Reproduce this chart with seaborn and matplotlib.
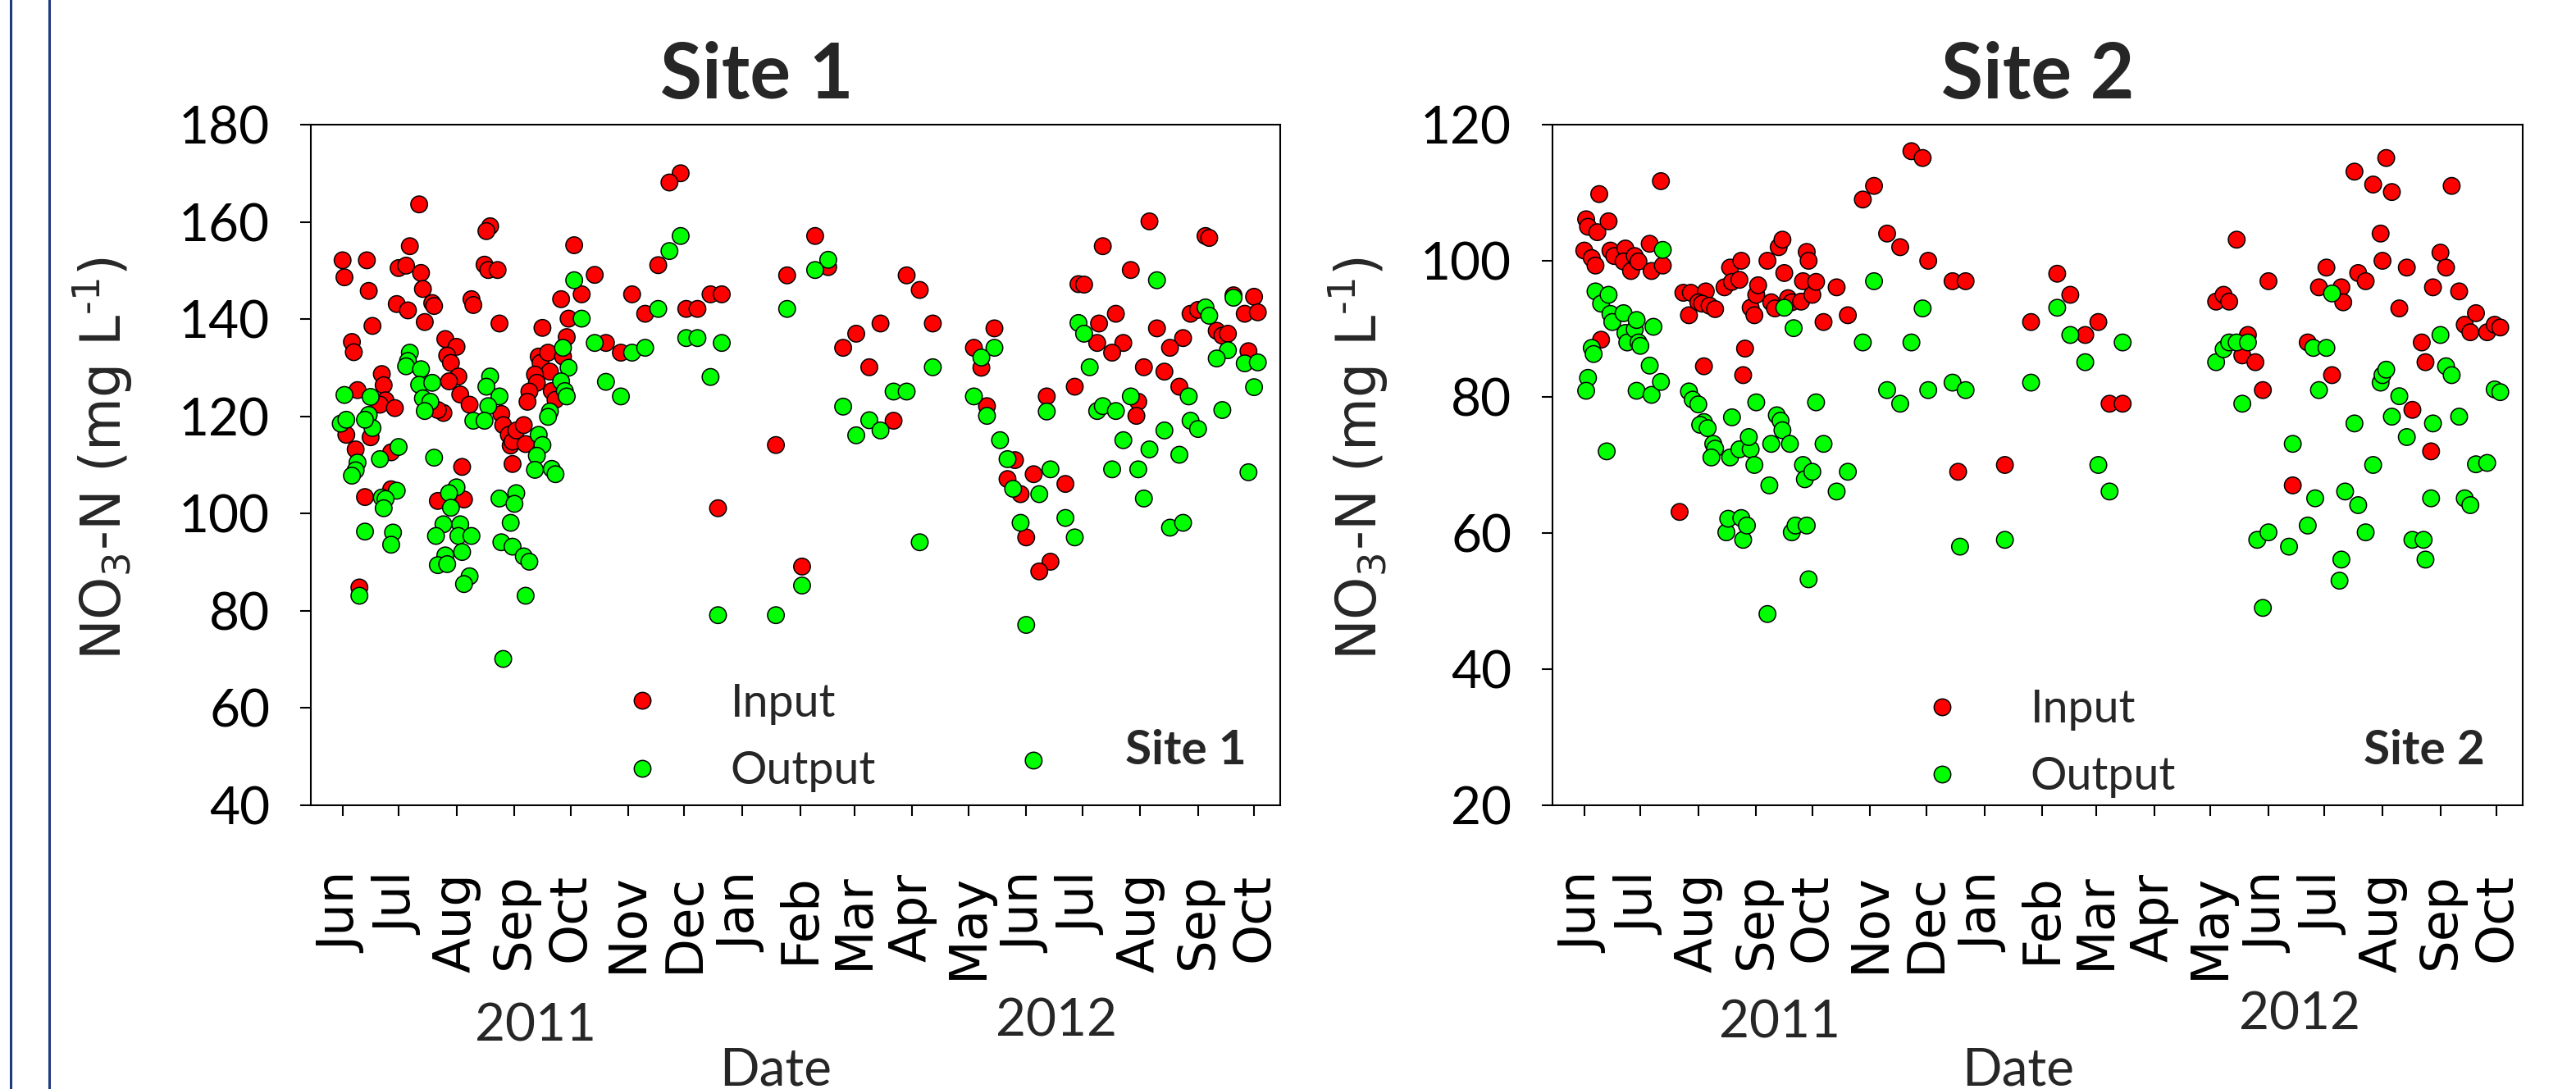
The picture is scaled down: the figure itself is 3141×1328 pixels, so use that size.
import matplotlib
matplotlib.use('Agg')
import numpy as np
import pandas as pd
import matplotlib.pyplot as plt
from matplotlib.lines import Line2D
import matplotlib.dates as mdates
import seaborn as sns

# ---------------- data (days counted from 1 Jun 2011, NO3-N in mg/L) ----------------
BASE_DATE = '2011-06-01'

site1_input_day = [
    41, 79, 77, 36, 124, 0, 13, 1, 30, 34,
    42, 76, 78, 83, 135, 14, 43, 48, 49, 29,
    35, 69, 70, 128, 117, 155, 44, 16, 84, 121,
    107, 5, 6, 120, 141, 149, 55, 61, 56, 58,
    105, 106, 110, 118, 21, 22, 8, 23, 20, 28,
    62, 57, 111, 103, 104, 100, 99, 112, 114, 63,
    68, 54, 51, 85, 86, 89, 90, 91, 93, 97,
    98, 2, 15, 7, 26, 64, 91, 12, 26, 51,
    65, 9, 181, 175, 169, 162, 184, 190, 197, 203,
    238, 253, 260, 232, 302, 309, 288, 316, 275, 268,
    282, 295, 201, 246, 432, 462, 464, 407, 422, 394,
    397, 477, 488, 483, 490, 414, 454, 458, 349, 338,
    342, 405, 404, 418, 412, 436, 450, 443, 468, 471,
    474, 485, 429, 440, 392, 448, 345, 377, 426, 425,
    360, 370, 387, 356, 363, 366, 379, 373]
site1_input_val = [
    163.6, 159.1, 158.1, 155.0, 155.2, 152.1, 152.1, 148.6, 150.5, 151.0,
    149.5, 151.2, 150.1, 150.1, 149.1, 145.8, 146.2, 143.3, 142.7, 143.1,
    141.8, 144.1, 142.9, 145.1, 144.1, 145.1, 139.4, 138.6, 139.1, 140.1,
    138.2, 135.3, 133.2, 136.3, 135.1, 133.1, 135.9, 134.3, 132.5, 131.0,
    132.3, 131.0, 133.1, 132.3, 128.7, 126.4, 125.4, 123.3, 122.4, 121.7,
    128.2, 127.2, 129.2, 128.6, 126.9, 125.1, 123.0, 125.2, 123.4, 124.5,
    122.4, 120.7, 121.3, 120.5, 118.2, 116.2, 114.0, 114.8, 117.1, 118.2,
    114.3, 116.2, 115.7, 113.2, 112.6, 109.6, 110.2, 103.4, 105.0, 102.6,
    102.9, 84.8, 170.0, 168.1, 151.1, 141.1, 142.1, 142.1, 145.1, 145.1,
    149.0, 157.1, 150.7, 114.1, 149.0, 146.0, 139.1, 139.1, 137.0, 134.1,
    130.1, 119.1, 101.1, 89.1, 160.1, 157.1, 156.7, 155.0, 150.1, 147.2,
    147.1, 144.9, 144.6, 141.1, 141.4, 141.1, 141.1, 141.9, 138.1, 134.1,
    130.0, 139.1, 135.1, 135.1, 133.1, 138.1, 136.1, 134.1, 137.6, 136.6,
    137.0, 133.4, 130.1, 129.2, 126.1, 126.1, 122.1, 124.1, 123.0, 120.1,
    111.0, 108.1, 106.1, 107.1, 104.0, 95.1, 90.1, 88.1]

site1_output_day = [
    124, 128, 135, 155, 141, 149, 36, 35, 34, 42,
    41, 48, 43, 47, 44, 1, 15, -1, 2, 14,
    16, 12, 79, 77, 84, 78, 70, 76, 118, 121,
    117, 119, 120, 111, 110, 105, 107, 104, 103, 112,
    114, 30, 20, 49, 8, 7, 5, 29, 21, 23,
    22, 61, 57, 58, 84, 93, 92, 12, 27, 26,
    54, 63, 50, 62, 69, 64, 55, 51, 56, 68,
    65, 90, 85, 91, 97, 100, 9, 98, 86, 181,
    175, 169, 162, 184, 190, 203, 197, 238, 260, 253,
    316, 295, 302, 268, 282, 288, 275, 309, 246, 201,
    232, 436, 477, 462, 464, 349, 342, 394, 397, 474,
    468, 483, 490, 488, 400, 453, 338, 345, 377, 404,
    407, 414, 422, 471, 454, 458, 440, 418, 432, 448,
    352, 356, 379, 412, 426, 485, 359, 373, 429, 363,
    387, 392, 443, 450, 366, 370]
site1_output_val = [
    148.0, 140.1, 135.1, 133.1, 127.1, 124.1, 133.1, 131.4, 130.3, 129.7,
    126.5, 126.9, 123.7, 123.0, 121.1, 124.4, 124.0, 118.5, 119.3, 120.3,
    117.6, 119.3, 128.2, 126.1, 124.1, 122.1, 119.1, 119.1, 134.1, 130.0,
    127.2, 125.2, 124.1, 121.0, 119.9, 116.2, 114.1, 111.9, 109.0, 109.2,
    108.1, 113.7, 111.2, 111.5, 110.5, 108.9, 107.8, 104.7, 103.3, 103.0,
    101.1, 105.4, 104.2, 101.2, 103.1, 104.2, 102.0, 96.3, 96.1, 93.6,
    97.8, 97.8, 95.4, 95.4, 95.4, 92.1, 91.4, 89.4, 89.6, 87.1,
    85.5, 98.1, 94.1, 93.2, 91.2, 90.1, 83.1, 83.1, 70.1, 157.1,
    154.0, 142.1, 134.1, 136.1, 136.1, 135.1, 128.1, 142.1, 152.2, 150.1,
    130.1, 125.1, 125.1, 122.0, 119.2, 117.1, 116.1, 94.1, 85.2, 79.1,
    79.1, 148.0, 144.4, 142.4, 140.7, 134.1, 132.1, 139.2, 137.0, 133.6,
    131.9, 130.9, 131.1, 126.0, 130.1, 124.1, 124.1, 120.1, 121.0, 121.1,
    122.1, 121.1, 124.1, 121.3, 119.1, 117.4, 117.1, 115.1, 113.2, 112.1,
    115.1, 111.2, 109.1, 109.1, 109.1, 108.5, 105.1, 104.0, 103.1, 98.1,
    99.1, 95.1, 97.1, 98.1, 77.1, 49.2]

site2_input_day = [
    1, 2, 8, 7, 13, 0, 4, 6, 14, 16,
    22, 21, 25, 27, 29, 35, 36, 42, 41, 9,
    51, 53, 57, 65, 56, 61, 63, 67, 70, 64,
    75, 78, 79, 83, 84, 86, 85, 89, 91, 92,
    93, 98, 100, 102, 104, 106, 107, 109, 111, 117,
    116, 119, 120, 122, 124, 128, 135, 141, 149, 155,
    162, 169, 184, 175, 181, 197, 204, 200, 225, 239,
    253, 260, 268, 275, 281, 288, 338, 342, 345, 349,
    355, 352, 359, 363, 366, 379, 387, 393, 397, 400,
    405, 406, 412, 414, 418, 422, 432, 429, 426, 427,
    436, 440, 443, 448, 450, 453, 454, 458, 461, 464,
    468, 471, 474, 477, 483, 487, 490]
site2_input_val = [
    106.1, 105.0, 109.8, 104.2, 105.8, 101.5, 100.4, 99.3, 101.5, 100.7,
    101.8, 99.9, 98.5, 100.7, 99.9, 102.5, 98.5, 99.3, 111.7, 88.4,
    63.1, 95.3, 95.3, 95.5, 92.0, 93.9, 93.7, 93.4, 92.9, 84.5,
    96.1, 99.0, 96.9, 97.2, 100.0, 87.1, 83.2, 93.1, 92.0, 95.0,
    96.4, 100.0, 93.9, 93.0, 102.0, 103.1, 98.2, 94.5, 93.9, 97.0,
    94.0, 101.3, 100.0, 95.0, 96.9, 91.0, 96.1, 92.0, 109.0, 111.0,
    104.0, 102.0, 100.0, 116.1, 115.1, 97.0, 97.0, 69.0, 70.0, 91.0,
    98.1, 95.0, 89.1, 91.0, 79.0, 79.0, 94.0, 95.0, 94.0, 103.1,
    89.1, 86.1, 85.1, 81.0, 97.0, 67.0, 88.0, 96.1, 99.0, 83.2,
    96.1, 93.9, 113.1, 98.2, 97.0, 111.2, 110.1, 115.1, 104.0, 100.0,
    93.0, 99.0, 78.1, 88.0, 85.1, 72.0, 96.1, 101.2, 99.0, 111.0,
    95.5, 90.6, 89.5, 92.3, 89.5, 90.6, 90.2]

site2_output_day = [
    6, 9, 13, 4, 5, 2, 1, 12, 14, 15,
    21, 22, 23, 27, 28, 29, 30, 35, 28, 36,
    37, 41, 42, 56, 58, 61, 64, 62, 66, 69,
    70, 68, 79, 78, 83, 89, 91, 88, 92, 99,
    100, 103, 105, 106, 110, 107, 112, 117, 118, 122,
    124, 128, 135, 141, 149, 155, 162, 169, 175, 181,
    184, 197, 204, 239, 253, 260, 268, 275, 281, 288,
    338, 342, 345, 349, 355, 352, 379, 391, 393, 390,
    397, 400, 407, 412, 414, 422, 426, 427, 429, 432,
    436, 440, 453, 454, 458, 461, 464, 468, 471, 474,
    477, 483, 487, 490, 76, 77, 84, 85, 87, 98,
    111, 113, 119, 120, 201, 225, 360, 366, 363, 377,
    387, 405, 404, 418, 443, 449, 450]
site2_output_val = [
    95.5, 93.7, 95.0, 87.2, 86.3, 82.8, 80.9, 72.0, 92.2, 91.0,
    92.3, 89.4, 88.0, 89.9, 91.3, 88.0, 87.5, 84.6, 80.9, 80.3,
    90.3, 82.2, 101.6, 80.8, 79.6, 78.9, 76.3, 75.9, 75.4, 73.1,
    72.4, 71.1, 77.0, 71.1, 72.3, 72.3, 70.0, 74.1, 79.2, 67.0,
    73.1, 77.3, 76.5, 75.1, 73.1, 93.1, 90.1, 70.0, 67.9, 69.0,
    79.2, 73.1, 66.1, 69.0, 88.0, 97.0, 81.0, 79.0, 88.0, 93.0,
    81.0, 82.1, 81.0, 82.1, 93.1, 89.1, 85.1, 70.0, 66.1, 88.0,
    85.1, 87.0, 88.0, 88.0, 88.0, 79.0, 73.1, 65.1, 81.0, 87.2,
    87.2, 95.2, 66.1, 76.1, 64.1, 70.0, 82.1, 83.2, 84.0, 77.1,
    80.1, 74.1, 65.1, 76.1, 89.1, 84.5, 83.2, 77.1, 65.1, 64.1,
    70.1, 70.3, 81.1, 80.7, 60.1, 62.1, 62.2, 59.0, 61.1, 48.1,
    60.1, 61.1, 61.1, 53.2, 58.0, 59.0, 59.0, 60.1, 49.0, 58.0,
    61.1, 56.1, 53.0, 60.1, 59.0, 59.0, 56.1]

month_ticks = ['2011-06-01', '2011-07-01', '2011-08-01', '2011-09-01', '2011-10-01',
               '2011-11-01', '2011-12-01', '2012-01-01', '2012-02-01', '2012-03-01',
               '2012-04-01', '2012-05-01', '2012-06-01', '2012-07-01', '2012-08-01',
               '2012-09-01', '2012-10-01']
month_labels = ['Jun', 'Jul', 'Aug', 'Sep', 'Oct', 'Nov', 'Dec', 'Jan', 'Feb', 'Mar',
                'Apr', 'May', 'Jun', 'Jul', 'Aug', 'Sep', 'Oct']
x_range = ['2011-05-15', '2012-10-15']
site1_yticks = [40, 60, 80, 100, 120, 140, 160, 180]
site2_yticks = [20, 40, 60, 80, 100, 120]
series_names = ['Input', 'Output']
palette = {'Input': '#FF0000', 'Output': '#00FF00'}

# ---------------- style ----------------
sns.set_style('ticks')
plt.rcParams['font.family'] = ['Lato', 'DejaVu Sans']
plt.rcParams['mathtext.default'] = 'regular'
plt.rcParams['mathtext.fontset'] = 'dejavusans'

W, H = 3141, 1328
fig = plt.figure(figsize=(W / 100, H / 100), dpi=100)
fig.patch.set_facecolor('white')

# slide border lines at far left
for xp in (13, 60):
    fig.add_artist(Line2D([xp / W, xp / W], [0, 1], transform=fig.transFigure,
                          color='#1F3A7F', lw=2.2))

ax1 = fig.add_axes([379 / W, 1 - 982 / H, 1182 / W, 830 / H])
ax2 = fig.add_axes([1893 / W, 1 - 982 / H, 1183 / W, 830 / H])


def build_frame(in_day, in_val, out_day, out_val):
    base = pd.Timestamp(BASE_DATE)
    a = pd.DataFrame({'Date': base + pd.to_timedelta(in_day, unit='D'),
                      'NO3': in_val, 'Series': 'Input'})
    b = pd.DataFrame({'Date': base + pd.to_timedelta(out_day, unit='D'),
                      'NO3': out_val, 'Series': 'Output'})
    return pd.concat([a, b], ignore_index=True)


df1 = build_frame(site1_input_day, site1_input_val, site1_output_day, site1_output_val)
df2 = build_frame(site2_input_day, site2_input_val, site2_output_day, site2_output_val)

MS = 215
for ax, df in ((ax1, df1), (ax2, df2)):
    sns.scatterplot(data=df, x='Date', y='NO3', hue='Series', hue_order=series_names,
                    palette=palette, s=MS, edgecolor='black', linewidth=1.1,
                    ax=ax, legend=False, zorder=3, clip_on=False)

cfg = [
    (ax1, site1_yticks, 'Site 1', 0.46, 0.965, 0.2947, 0.0995, -0.215),
    (ax2, site2_yticks, 'Site 2', 0.50, 0.961, 0.3545, 0.0905, -0.201),
]
for ax, yt, name, tx, ax_x, lg_x, lg_y, yl_x in cfg:
    ax.set_xlim(pd.to_datetime(x_range[0]), pd.to_datetime(x_range[1]))
    ax.set_ylim(yt[0], yt[-1])
    ax.set_yticks(yt)
    ax.set_yticklabels([str(v) for v in yt])
    ax.set_xticks(mdates.date2num(pd.to_datetime(month_ticks)))
    ax.set_xticklabels(month_labels, rotation=90, fontfamily='DejaVu Sans', fontsize=45)
    ax.tick_params(axis='x', direction='out', length=9.4, width=1.5, pad=50, colors='black')
    ax.tick_params(axis='y', direction='out', length=9.4, width=1.5, pad=26.5,
                   labelsize=46, colors='black')
    for sp in ax.spines.values():
        sp.set_visible(True)
        sp.set_linewidth(1.5)
        sp.set_color('black')
    ax.set_xlabel('')
    ax.set_ylabel('')
    ax.text(yl_x, 0.51, r'NO$_3$-N (mg L$^{\text{-}1}$)', transform=ax.transAxes,
            rotation=90, ha='center', va='center', fontsize=48, fontfamily='DejaVu Sans')
    ax.text(tx, 1.0386, name, transform=ax.transAxes, ha='center', va='baseline',
            fontsize=67, fontweight='bold')
    ax.text(ax_x, 0.060, name, transform=ax.transAxes, ha='right', va='baseline',
            fontsize=42, fontweight='bold')
    handles = [Line2D([], [], ls='', marker='o', markersize=np.sqrt(MS),
                      markerfacecolor=palette[n], markeredgecolor='black',
                      markeredgewidth=1.1) for n in series_names]
    ax.legend(handles, series_names, loc='center left', bbox_to_anchor=(lg_x, lg_y),
              frameon=False, fontsize=40, handlelength=2.0, handletextpad=0.94,
              labelspacing=0.56, borderpad=0, borderaxespad=0)

# year labels and axis titles
fig.text(653 / W, 1 - 1252 / H, '2011', ha='center', va='center', fontsize=46)
fig.text(1288 / W, 1 - 1245 / H, '2012', ha='center', va='center', fontsize=46)
fig.text(2170 / W, 1 - 1247 / H, '2011', ha='center', va='center', fontsize=46)
fig.text(2804 / W, 1 - 1238 / H, '2012', ha='center', va='center', fontsize=46)
fig.text(946 / W, 1 - 1323 / H, 'Date', ha='center', va='baseline', fontsize=46)
fig.text(2461 / W, 1 - 1323 / H, 'Date', ha='center', va='baseline', fontsize=46)

fig.savefig('out.png', dpi=100, facecolor='white')
